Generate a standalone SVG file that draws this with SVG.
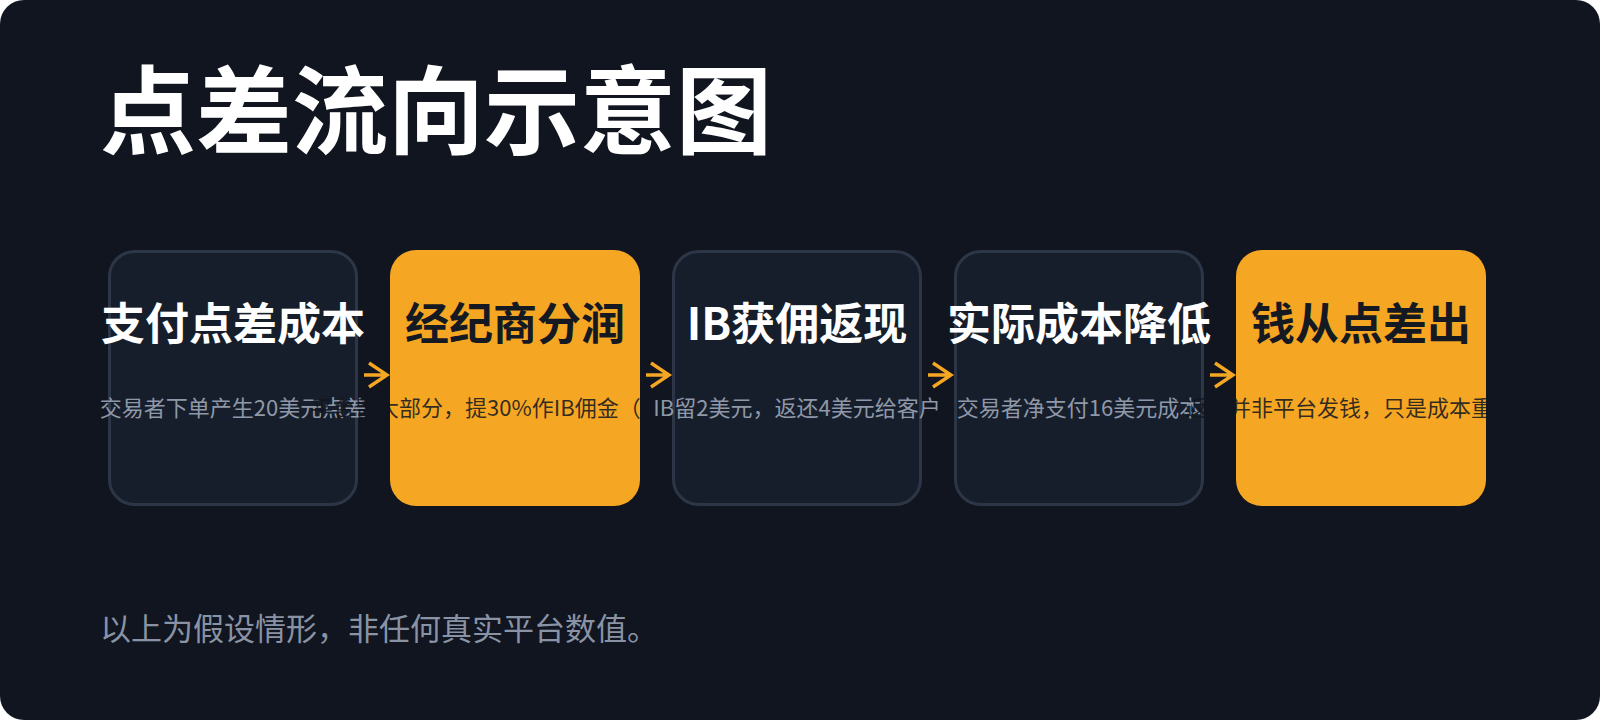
<svg xmlns="http://www.w3.org/2000/svg" width="1600" height="720" viewBox="0 0 1600 720">
  <defs>
    <style>
      .t{font-family:"Noto Sans CJK SC","Noto Sans",sans-serif;}
      .title{font-size:96px;font-weight:700;fill:#ffffff;}
      .h{font-size:44px;font-weight:700;text-anchor:middle;}
      .d{font-size:22px;font-weight:400;text-anchor:middle;}
      .dark rect{fill:#171e2b;stroke:#2d3646;stroke-width:3;}
      .dark .h{fill:#ffffff;}
      .dark .d{fill:#8f98a8;}
      .hot rect{fill:#f5a623;}
      .hot .h{fill:#151922;}
      .hot .d{fill:#10151f;fill-opacity:0.86;}
      .note{font-size:31px;fill:#8a93a5;}
      .arrow{fill:none;stroke:#f5a623;stroke-width:3.4;stroke-linecap:butt;stroke-linejoin:miter;}
    </style>
  </defs>
  <rect x="0" y="0" width="1600" height="720" fill="#ffffff"/>
  <rect x="0" y="0" width="1600" height="720" rx="24" fill="#10151f"/>
  <text class="t title" x="100" y="146">点差流向示意图</text>

  <g id="node-1" class="dark">
    <rect x="109.5" y="251.5" width="247" height="253" rx="25"/>
    <text class="t h" x="233" y="340">支付点差成本</text>
    <text class="t d" x="233" y="416">交易者下单产生20美元点差</text>
  </g>
  <g id="node-2" class="hot">
    <rect x="390" y="250" width="250" height="256" rx="26"/>
    <text class="t h" x="515" y="340">经纪商分润</text>
    <text class="t d" x="515" y="416">平台留大部分，提30%作IB佣金（6美元）</text>
  </g>
  <g id="node-3" class="dark">
    <rect x="673.5" y="251.5" width="247" height="253" rx="25"/>
    <text class="t h" x="797" y="340">IB获佣返现</text>
    <text class="t d" x="797" y="416">IB留2美元，返还4美元给客户</text>
  </g>
  <g id="node-4" class="dark">
    <rect x="955.5" y="251.5" width="247" height="253" rx="25"/>
    <text class="t h" x="1079" y="340">实际成本降低</text>
    <text class="t d" x="1079" y="416">交易者净支付16美元成本</text>
  </g>
  <g id="node-5" class="hot">
    <rect x="1236" y="250" width="250" height="256" rx="26"/>
    <text class="t h" x="1361" y="340">钱从点差出</text>
    <text class="t d" x="1361" y="416">返现并非平台发钱，只是成本重分配</text>
  </g>

  <g id="connectors">
    <path class="arrow" d="M364 375 H386 M369 363 L387 375 L369 387"/>
    <path class="arrow" d="M646 375 H668 M651 363 L669 375 L651 387"/>
    <path class="arrow" d="M928 375 H950 M933 363 L951 375 L933 387"/>
    <path class="arrow" d="M1210 375 H1232 M1215 363 L1233 375 L1215 387"/>
  </g>

  <text class="t note" x="100" y="640">以上为假设情形，非任何真实平台数值。</text>
</svg>
